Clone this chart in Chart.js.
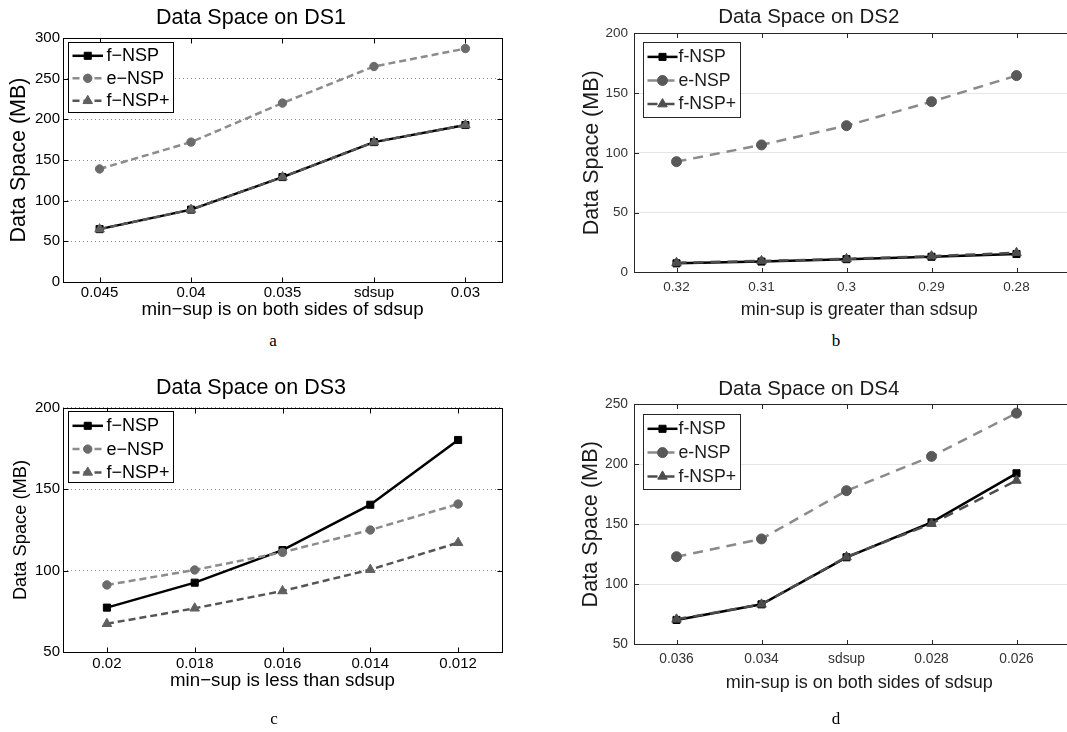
<!DOCTYPE html>
<html>
<head>
<meta charset="utf-8">
<title>Data Space</title>
<script src="https://cdn.jsdelivr.net/npm/chart.js@4.4.1/dist/chart.umd.min.js"></script>
<style>
  html, body { margin: 0; padding: 0; background: #fff; }
  body { position: relative; width: 1067px; height: 732px; overflow: hidden; }
  canvas { position: absolute; }
  .cap { position: absolute; width: 40px; text-align: center; line-height: 20px;
         font-family: "Liberation Serif", "DejaVu Serif", serif; font-size: 17px; color: #000; }
</style>
</head>
<body>
<canvas id="ds1" width="562" height="330" style="left:0;top:0"></canvas>
<canvas id="ds2" width="626" height="330" style="left:533px;top:0"></canvas>
<canvas id="ds3" width="564" height="366" style="left:0;top:366px"></canvas>
<canvas id="ds4" width="626" height="366" style="left:533px;top:366px"></canvas>
<div class="cap" style="left:253px;top:331px">a</div>
<div class="cap" style="left:816px;top:331px">b</div>
<div class="cap" style="left:254px;top:709px">c</div>
<div class="cap" style="left:816px;top:709px">d</div>
<script>
(function() {
    'use strict';

    // Data (MB)
    const ds1Ticks = ['0.045', '0.04', '0.035', 'sdsup', '0.03'];
    const ds1FNSP = [65, 89, 129, 172, 193];
    const ds1ENSP = [139, 172, 220, 265, 287];
    const ds1FNSPPlus = [65, 89, 129, 172, 193];

    const ds2Ticks = ['0.32', '0.31', '0.3', '0.29', '0.28'];
    const ds2FNSP = [7.5, 9, 11, 13, 15.3];
    const ds2ENSP = [92.6, 106.6, 122.7, 142.8, 164.6];
    const ds2FNSPPlus = [8, 9.5, 11.2, 13.5, 16.3];

    const ds3Ticks = ['0.02', '0.018', '0.016', '0.014', '0.012'];
    const ds3FNSP = [77.4, 92.7, 112.7, 140.5, 180.2];
    const ds3ENSP = [91.3, 100.5, 111.3, 125, 140.9];
    const ds3FNSPPlus = [67.5, 77, 87.6, 100.7, 117.2];

    const ds4Ticks = ['0.036', '0.034', 'sdsup', '0.028', '0.026'];
    const ds4FNSP = [70.3, 83.3, 122.5, 151.6, 192.5];
    const ds4ENSP = [123, 137.8, 178, 206.6, 242.6];
    const ds4FNSPPlus = [70.8, 83.3, 122.8, 150.5, 186.5];

    const classicNames = ['f\u2212NSP', 'e\u2212NSP', 'f\u2212NSP+'];
    const modernNames = ['f-NSP', 'e-NSP', 'f-NSP+'];

    const FONT = '"Liberation Sans", Arial, Helvetica, sans-serif';

    // Line / marker look; left panels use the old MATLAB style, right ones the newer one
    function seriesStyles(modern) {
        const dash = modern ? [10, 7] : [7, 4];
        return [
            { borderColor: '#000', pointBackgroundColor: '#000', pointStyle: 'rect', pointRadius: 5, borderDash: [], order: 2 },
            { borderColor: modern ? '#8a8a8a' : '#8c8c8c', pointBackgroundColor: modern ? '#595959' : '#6b6b6b',
              pointStyle: 'circle', pointRadius: modern ? 5 : 4.2, borderDash: dash, order: 1 },
            { borderColor: modern ? '#4d4d4d' : '#555', pointBackgroundColor: modern ? '#4d4d4d' : '#5f5f5f',
              pointStyle: 'triangle', pointRadius: 5.5, borderDash: dash, order: 0 }
        ];
    }

    const panels = [
        {
            id: 'ds1', title: 'Data Space on DS1', xTitle: 'min\u2212sup is on both sides of sdsup',
            ticks: ds1Ticks, series: [ds1FNSP, ds1ENSP, ds1FNSPPlus], names: classicNames, modern: false,
            yMin: 0, yMax: 300, xMin: -0.4, xMax: 4.4,
            pad: { left: 0, right: 60, top: 0, bottom: 8 },
            titleFont: 21.5, titlePad: { top: 5, bottom: 7.2 },
            yW: 63, yTickFont: 15, yTickPad: 3, yTitleFont: 21.5, yTitlePad: 6.1,
            xH: 40, xTickFont: 15, xTickPad: 1.5, xTitleFont: 18.7, xTitlePad: 1.3,
            legend: { x: 5, y: 4, w: 105, h: 70, first: 13.3, step: 22.5, from: 4, to: 34.5, text: 38, font: 18 }
        },
        {
            id: 'ds2', title: 'Data Space on DS2', xTitle: 'min-sup is greater than sdsup',
            ticks: ds2Ticks, series: [ds2FNSP, ds2ENSP, ds2FNSPPlus], names: modernNames, modern: true,
            yMin: 0, yMax: 200, xMin: -0.5, xMax: 4.8,
            pad: { left: 0, right: 74.5, top: 0, bottom: 9.2 },
            titleFont: 20.5, titlePad: { top: 5.5, bottom: 3.2 },
            yW: 101, yTickFont: 13.5, yTickPad: 6, yTitleFont: 21.5, yTitlePad: 46.1,
            xH: 48.5, xTickFont: 13.5, xTickPad: 7.1, xTitleFont: 18, xTitlePad: 0,
            legend: { x: 8.7, y: 9, w: 96.6, h: 75, first: 14.4, step: 23.6, from: 4, to: 34, text: 35, font: 17.7 }
        },
        {
            id: 'ds3', title: 'Data Space on DS3', xTitle: 'min\u2212sup is less than sdsup',
            ticks: ds3Ticks, series: [ds3FNSP, ds3ENSP, ds3FNSPPlus], names: classicNames, modern: false,
            yMin: 50, yMax: 200, xMin: -0.5, xMax: 4.5,
            pad: { left: 0, right: 62, top: 0, bottom: 39.7 },
            titleFont: 21.5, titlePad: { top: 9.6, bottom: 6.3 },
            yW: 63, yTickFont: 15, yTickPad: 3, yTitleFont: 18.3, yTitlePad: 9.5,
            xH: 40, xTickFont: 15, xTickPad: 2.7, xTitleFont: 18.7, xTitlePad: 0.1,
            legend: { x: 5.3, y: 3, w: 105, h: 71, first: 14.3, step: 23.3, from: 4, to: 34.5, text: 38, font: 18 }
        },
        {
            id: 'ds4', title: 'Data Space on DS4', xTitle: 'min-sup is on both sides of sdsup',
            ticks: ds4Ticks, series: [ds4FNSP, ds4ENSP, ds4FNSPPlus], names: modernNames, modern: true,
            yMin: 50, yMax: 250, xMin: -0.5, xMax: 4.8,
            pad: { left: 0, right: 74.5, top: 0, bottom: 38.2 },
            titleFont: 20.5, titlePad: { top: 11.2, bottom: 2.5 },
            yW: 101, yTickFont: 13.8, yTickPad: 6, yTitleFont: 21.7, yTitlePad: 45.5,
            xH: 49.5, xTickFont: 13.8, xTickPad: 6.4, xTitleFont: 18, xTitlePad: 0,
            legend: { x: 8.7, y: 9.7, w: 96.6, h: 75, first: 14.3, step: 23.8, from: 4, to: 34, text: 35, font: 17.7 }
        }
    ];

    // Axes box with inward tick marks, like MATLAB's "box on"
    function framePlugin(p) {
        return {
            id: 'frame',
            afterDatasetsDraw(chart) {
                const { ctx, chartArea: a, scales } = chart;
                const len = p.modern ? 4.5 : 5;
                const l = Math.round(a.left) + 0.5, r = Math.round(a.right) + 0.5;
                const t = Math.round(a.top) + 0.5, b = Math.round(a.bottom) + 0.5;
                ctx.save();
                ctx.strokeStyle = p.modern ? '#262626' : '#000';
                ctx.lineWidth = 1;
                ctx.setLineDash([]);
                ctx.strokeRect(l, t, r - l, b - t);
                ctx.beginPath();
                p.ticks.forEach((label, i) => {
                    const px = Math.round(scales.x.getPixelForValue(i)) + 0.5;
                    ctx.moveTo(px, t); ctx.lineTo(px, t + len);
                    ctx.moveTo(px, b); ctx.lineTo(px, b - len);
                });
                scales.y.ticks.forEach((tick) => {
                    const py = Math.round(scales.y.getPixelForValue(tick.value)) + 0.5;
                    ctx.moveTo(l, py); ctx.lineTo(l + len, py);
                    ctx.moveTo(r, py); ctx.lineTo(r - len, py);
                });
                ctx.stroke();
                ctx.restore();
            }
        };
    }

    // Boxed legend inside the axes, line sample with marker in the middle
    function legendPlugin(p) {
        return {
            id: 'boxLegend',
            afterDraw(chart) {
                const { ctx, chartArea } = chart;
                const lg = p.legend;
                const x0 = Math.round(chartArea.left + lg.x) + 0.5;
                const y0 = Math.round(chartArea.top + lg.y) + 0.5;
                ctx.save();
                ctx.fillStyle = '#fff';
                ctx.fillRect(x0, y0, lg.w, lg.h);
                ctx.strokeStyle = p.modern ? '#262626' : '#000';
                ctx.lineWidth = 1;
                ctx.strokeRect(x0, y0, Math.round(lg.w), Math.round(lg.h));
                chart.data.datasets.forEach((ds, i) => {
                    const y = y0 + lg.first + i * lg.step;
                    ctx.setLineDash(ds.borderDash || []);
                    ctx.strokeStyle = ds.borderColor;
                    ctx.lineWidth = ds.borderWidth;
                    ctx.beginPath();
                    ctx.moveTo(x0 + lg.from, y);
                    ctx.lineTo(x0 + lg.to, y);
                    ctx.stroke();
                    ctx.setLineDash([]);
                    ctx.fillStyle = ds.pointBackgroundColor;
                    ctx.strokeStyle = ds.pointBackgroundColor;
                    ctx.lineWidth = 1;
                    Chart.helpers.drawPoint(ctx, { pointStyle: ds.pointStyle, radius: ds.pointRadius, borderWidth: 1, rotation: 0 },
                        x0 + (lg.from + lg.to) / 2, y);
                    ctx.fillStyle = p.modern ? '#1a1a1a' : '#000';
                    ctx.font = lg.font + 'px ' + FONT;
                    ctx.textAlign = 'left';
                    ctx.textBaseline = 'middle';
                    ctx.fillText(ds.label, x0 + lg.text, y + 0.5);
                });
                ctx.restore();
            }
        };
    }

    function buildChart(p) {
        const styles = seriesStyles(p.modern);
        const textColor = p.modern ? '#1a1a1a' : '#000';
        const tickColor = p.modern ? '#333' : '#000';

        const datasets = p.series.map((values, i) => Object.assign({
            label: p.names[i],
            data: values.map((y, x) => ({ x: x, y: y })),
            borderWidth: 2.5,
            pointBorderColor: styles[i].pointBackgroundColor,
            pointBorderWidth: 1,
            tension: 0,
            fill: false
        }, styles[i]));

        new Chart(document.getElementById(p.id), {
            type: 'line',
            data: { datasets: datasets },
            options: {
                responsive: false,
                animation: false,
                devicePixelRatio: 1,
                layout: { padding: p.pad },
                plugins: {
                    legend: { display: false },
                    tooltip: { enabled: false },
                    title: {
                        display: true,
                        text: p.title,
                        color: textColor,
                        font: { family: FONT, size: p.titleFont, weight: 'normal' },
                        padding: p.titlePad
                    }
                },
                scales: {
                    x: {
                        type: 'linear',
                        min: p.xMin,
                        max: p.xMax,
                        afterBuildTicks: (axis) => {
                            axis.ticks = p.ticks.map((label, i) => ({ value: i }));
                        },
                        afterFit: (axis) => { axis.height = p.xH; },
                        grid: { display: false, drawTicks: false },
                        border: { display: false },
                        ticks: {
                            autoSkip: false,
                            maxRotation: 0,
                            padding: p.xTickPad,
                            color: tickColor,
                            font: { family: FONT, size: p.xTickFont },
                            callback: (value) => p.ticks[value]
                        },
                        title: {
                            display: true,
                            text: p.xTitle,
                            color: textColor,
                            font: { family: FONT, size: p.xTitleFont },
                            padding: { top: 0, bottom: p.xTitlePad }
                        }
                    },
                    y: {
                        min: p.yMin,
                        max: p.yMax,
                        afterFit: (axis) => { axis.width = p.yW; },
                        grid: {
                            color: p.modern ? '#e5e5e5' : '#8c8c8c',
                            lineWidth: 1,
                            drawTicks: false
                        },
                        border: { display: false, dash: p.modern ? [] : [1, 3] },
                        ticks: {
                            stepSize: 50,
                            padding: p.yTickPad,
                            color: tickColor,
                            font: { family: FONT, size: p.yTickFont }
                        },
                        title: {
                            display: true,
                            text: 'Data Space (MB)',
                            color: textColor,
                            font: { family: FONT, size: p.yTitleFont },
                            padding: { top: p.yTitlePad, bottom: 0 }
                        }
                    }
                }
            },
            plugins: [framePlugin(p), legendPlugin(p)]
        });
    }

    panels.forEach(buildChart);
})();
</script>
</body>
</html>
